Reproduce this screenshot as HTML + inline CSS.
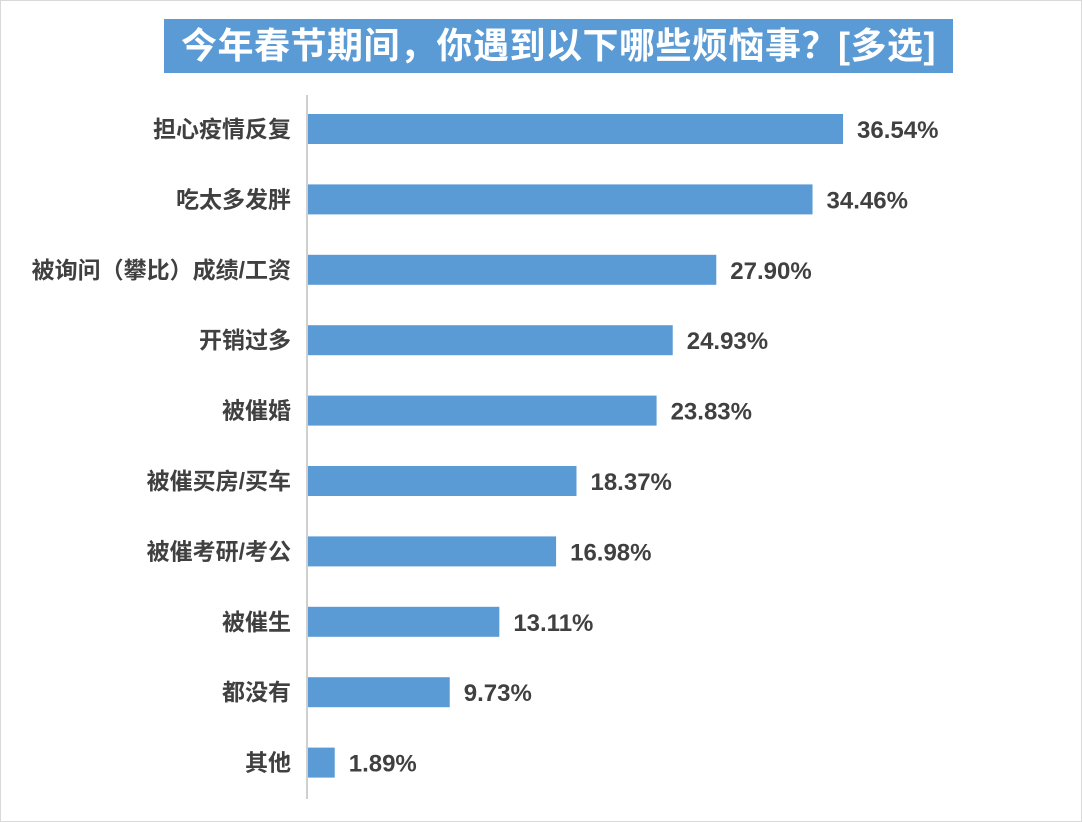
<!DOCTYPE html>
<html><head><meta charset="utf-8"><style>
body{margin:0;background:#fff;}
#c{position:relative;width:1080px;height:820px;border:1px solid #d9d9d9;background:#fff;font-family:"Liberation Sans","Noto Sans CJK SC",sans-serif;overflow:hidden}
#title{position:absolute;left:163px;top:18px;width:789px;height:54px;background:#5b9bd5;color:#fff;font-weight:bold;font-size:36px;line-height:54px;text-align:center;white-space:nowrap;letter-spacing:0.5px}
</style></head><body>
<div id="c">
<div id="title">今年春节期间，你遇到以下哪些烦恼事？[多选]</div>
<svg id="s" width="1080" height="820" style="position:absolute;left:0;top:0"></svg>
</div>
<script>
const categories=["担心疫情反复","吃太多发胖","被询问（攀比）成绩/工资","开销过多","被催婚","被催买房/买车","被催考研/考公","被催生","都没有","其他"];
const values=[36.54,34.46,27.90,24.93,23.83,18.37,16.98,13.11,9.73,1.89];
const labels=["36.54%","34.46%","27.90%","24.93%","23.83%","18.37%","16.98%","13.11%","9.73%","1.89%"];
const NS="http://www.w3.org/2000/svg";
const svg=document.getElementById('s');
const x0=306,pxPer=14.67;
function xs(v){return x0+v*pxPer;}
function yc(i){return 128+i*70.4;}
const ax=document.createElementNS(NS,'line');


ax.setAttribute('x1',x0);ax.setAttribute('x2',x0);ax.setAttribute('y1',94);ax.setAttribute('y2',798);
ax.setAttribute('stroke','#bfbfbf');ax.setAttribute('stroke-width','1.5');
svg.appendChild(ax);
categories.forEach((c,i)=>{
 const y=yc(i);
 const r=document.createElementNS(NS,'rect');
 
 
 r.setAttribute('x',x0+1);r.setAttribute('y',y-15);r.setAttribute('width',xs(values[i])-x0-1);r.setAttribute('height',30);
 r.setAttribute('fill','#5b9bd5');svg.appendChild(r);
 const t=document.createElementNS(NS,'text');
 
 
 t.setAttribute('x',290);t.setAttribute('y',y+8);t.setAttribute('text-anchor','end');
 t.setAttribute('font-size','23');t.setAttribute('font-weight','bold');t.setAttribute('fill','#404040');
 t.textContent=c;svg.appendChild(t);
 const v=document.createElementNS(NS,'text');
 
 
 v.setAttribute('x',xs(values[i])+14);v.setAttribute('y',y+9);
 v.setAttribute('font-size','24');v.setAttribute('font-weight','bold');v.setAttribute('fill','#404040');
 v.textContent=labels[i];svg.appendChild(v);
});
</script>
</body></html>
